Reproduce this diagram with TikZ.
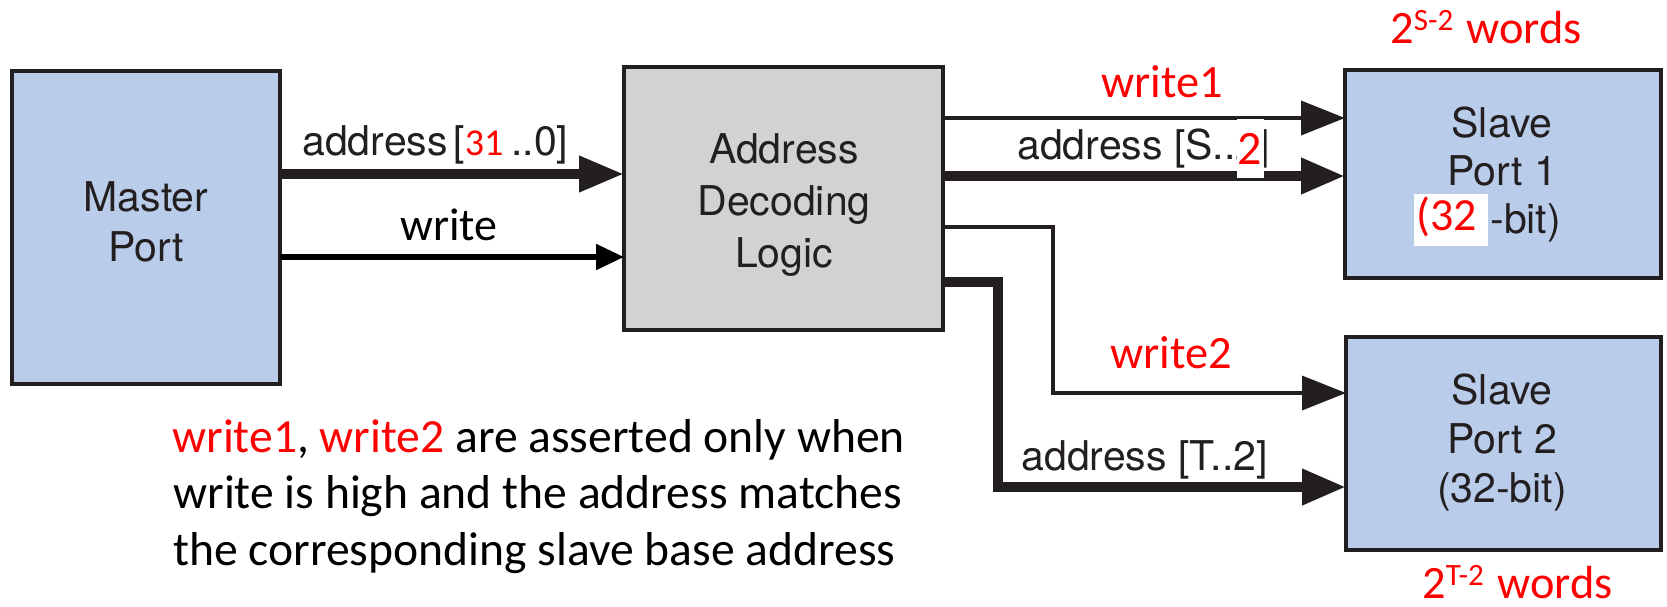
\documentclass[tikz,border=0pt]{standalone}
\usepackage{fontspec}
\usetikzlibrary{arrows.meta,fit}
\newfontfamily\hvfont{TeX Gyre Heros}
\newfontfamily\cbfont{Carlito}
\definecolor{portblue}{HTML}{B9CDEA}
\definecolor{decgray}{HTML}{D1D2D4}
\definecolor{ink}{HTML}{231F20}
\definecolor{alert}{HTML}{FF0000}
% "2^{x} words" with a raised exponent in the same face
\newcommand\wordsize[1]{2\raisebox{6.5pt}{\fontsize{15.5}{18}\selectfont #1}\hspace{1.5pt} words}

\begin{document}
\begin{tikzpicture}[x=0.5pt,y=-0.5pt,
  port/.style={draw=ink, line width=1.8pt, inner sep=0pt, outer sep=0pt},
  hvtext/.style={inner sep=0pt, text=ink, font=\hvfont\fontsize{20.5}{24}\selectfont},
  boxline/.style={hvtext, anchor=base},
  siglabel/.style={hvtext, anchor=base west},
  redlabel/.style={inner sep=0pt, anchor=base west, text=alert, font=\cbfont\fontsize{23.2}{28}\selectfont},
  notetext/.style={inner sep=0pt, anchor=base west, text=black, font=\cbfont\fontsize{23.8}{28}\selectfont},
  bus/.style={color=ink, line width=5pt, -{Triangle[length=22pt,width=17pt]}},
  wire/.style={color=ink, line width=1.8pt, -{Triangle[length=22pt,width=17pt]}},
  strobe/.style={color=black, line width=2.6pt, -{Triangle[length=14pt,width=12.5pt]}},
]
\useasboundingbox (0,0) rectangle (1667,606);

% blocks
\node[port, fill=portblue, fit={(12,71) (280,384)}] (master) {};
\node[port, fill=decgray,  fit={(624,67) (943,330)}] (dec) {};
\node[port, fill=portblue, fit={(1345,70) (1661,278)}] (slave1) {};
\node[port, fill=portblue, fit={(1346,337) (1661,550)}] (slave2) {};

% block captions
\node[boxline] (mA) at (146,211) {Master};
\node[boxline] (mB) at (146,261) {Port};
\node[boxline] (dA) at (784,163) {Address};
\node[boxline] (dB) at (784,215) {Decoding};
\node[boxline] (dC) at (784,267) {Logic};
\node[boxline] (sA) at (1502,137) {Slave};
\node[boxline] (sB) at (1502,185) {Port 1};
\node[siglabel] (sC) at (1490,233) {-bit)};
\node[fill=white, inner sep=0pt, fit={(1414,194) (1488,246)}] (sCmask) {};
\node[redlabel, font=\cbfont\fontsize{23}{28}\selectfont] (sCred) at (1416,230) {(32};
\node[boxline] (tA) at (1502,404) {Slave};
\node[boxline] (tB) at (1502,453) {Port 2};
\node[boxline] (tC) at (1502,502) {(32-bit)};

% bend points of the routed signals
\coordinate (w2bend) at (1053,393);
\coordinate (aTbend) at (998,487);

% master -> decoder
\draw[bus, -{Triangle[length=22.5pt,width=17pt]}] (master.east |- 0,174) -- (dec.west |- 0,174);
\draw[strobe] (master.east |- 0,257) -- (dec.west |- 0,257);

% decoder -> slave 1
\draw[wire] (dec.east |- 0,118) -- (slave1.west |- 0,118);
\draw[bus] (dec.east |- 0,176) -- (slave1.west |- 0,176);

% decoder -> slave 2
\draw[wire] (dec.east |- 0,227) -| (w2bend) -- (slave2.west |- w2bend);
\draw[bus] (dec.east |- 0,282) -| (aTbend) -- (slave2.west |- aTbend);

% signal labels
\node[siglabel] (la31) at (302,155) {address};
\node[siglabel] (la31b) at (453,155) {[\textcolor{alert}{\cbfont\fontsize{19}{22}\selectfont 31}\hspace{4pt}..0]};
\node[redlabel, text=black, font=\cbfont\fontsize{23}{28}\selectfont] (lwr) at (400,240) {write};
\node[redlabel] (lw1) at (1101,97) {write1};
\node[siglabel] (laS) at (1017,159) {address [S..2]};
\node[fill=white, inner sep=0pt, fit={(1237,119) (1264,178)}] (laSmask) {};
\node[inner sep=0pt, anchor=base, text=alert, font=\cbfont\fontsize{24}{28}\selectfont] (laSred) at (1250,164) {2};
\node[redlabel] (lw2) at (1110,368) {write2};
\node[siglabel] (laT) at (1021,470) {address [T..2]};

% memory sizes
\node[redlabel] (sz1) at (1390,43) {\wordsize{S-2}};
\node[redlabel] (sz2) at (1422,598) {\wordsize{T-2}};

% note
\node[notetext] (n1) at (172,452) {\textcolor{alert}{write1}, \textcolor{alert}{write2} are asserted only when};
\node[notetext] (n2) at (173,508) {write is high and the address matches};
\node[notetext] (n3) at (173,565) {the corresponding slave base address};
\end{tikzpicture}
\end{document}
